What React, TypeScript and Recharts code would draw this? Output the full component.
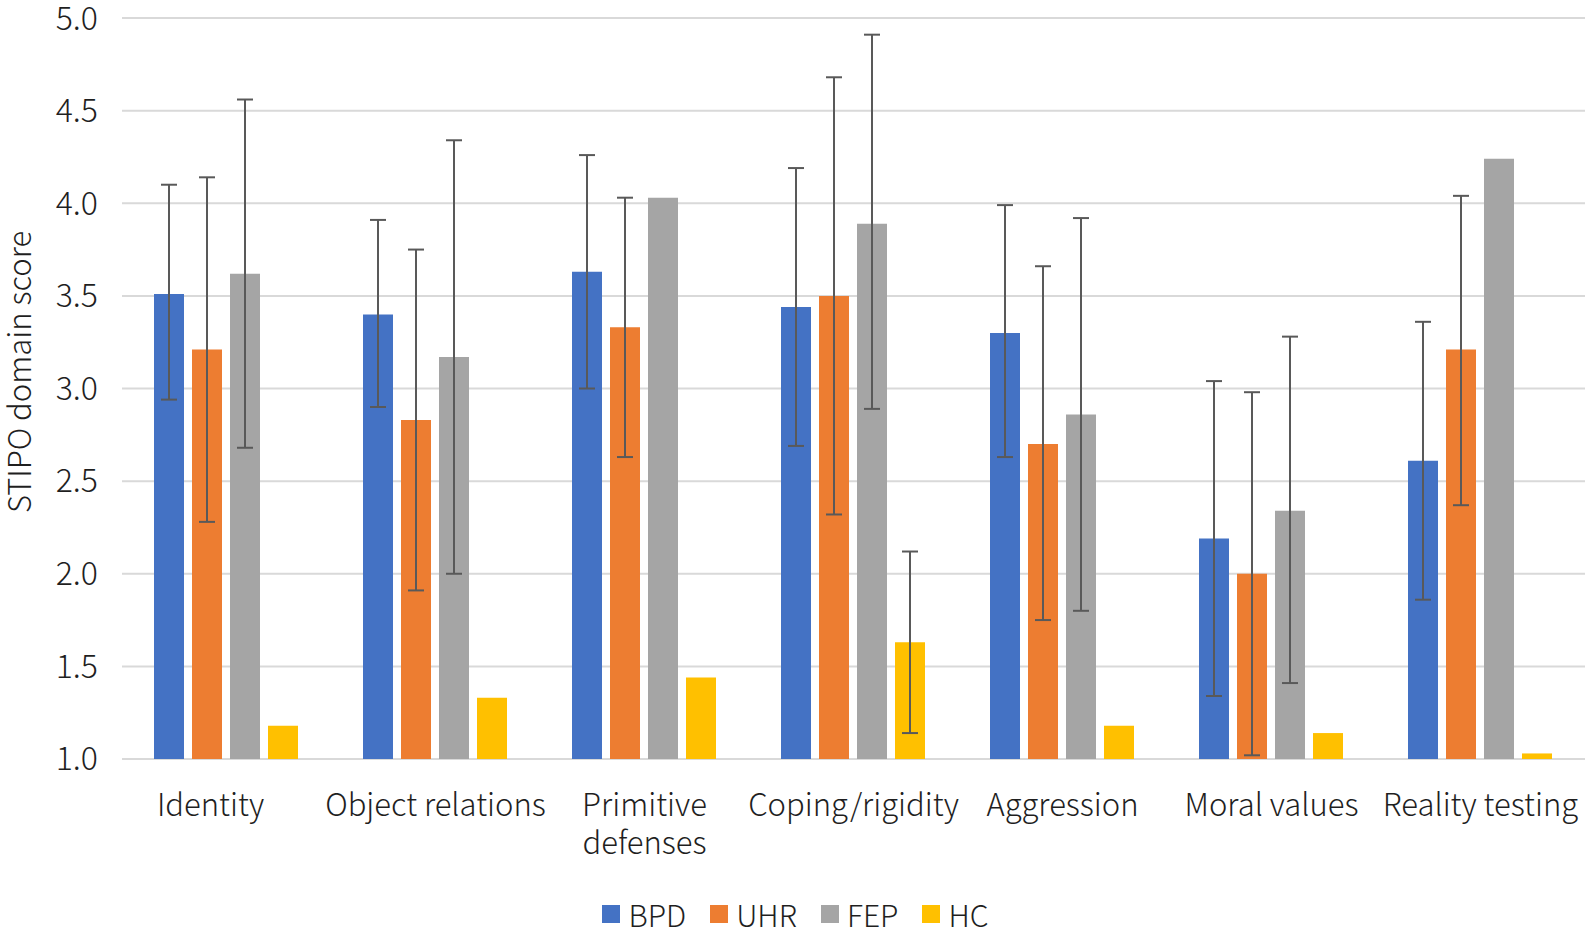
import React from 'react';
import { BarChart, Bar, XAxis, YAxis, CartesianGrid, Legend, ErrorBar } from 'recharts';

const categories = [
  'Identity',
  'Object relations',
  'Primitive defenses',
  'Coping/rigidity',
  'Aggression',
  'Moral values',
  'Reality testing',
];

// bar heights (mean STIPO domain score)
const bpd = [3.51, 3.40, 3.63, 3.44, 3.30, 2.19, 2.61];
const uhr = [3.21, 2.83, 3.33, 3.50, 2.70, 2.00, 3.21];
const fep = [3.62, 3.17, 4.03, 3.89, 2.86, 2.34, 4.24];
const hc = [1.18, 1.33, 1.44, 1.63, 1.18, 1.14, 1.03];

// whisker ends, null where no whisker is drawn
const bpdLow = [2.94, 2.90, 3.00, 2.69, 2.63, 1.34, 1.86];
const bpdHigh = [4.10, 3.91, 4.26, 4.19, 3.99, 3.04, 3.36];
const uhrLow = [2.28, 1.91, 2.63, 2.32, 1.75, 1.02, 2.37];
const uhrHigh = [4.14, 3.75, 4.03, 4.68, 3.66, 2.98, 4.04];
const fepLow = [2.68, 2.00, null, 2.89, 1.80, 1.41, null];
const fepHigh = [4.56, 4.34, null, 4.91, 3.92, 3.28, null];
const hcLow = [null, null, null, 1.14, null, null, null];
const hcHigh = [null, null, null, 2.12, null, null, null];

const yTicks = [1.0, 1.5, 2.0, 2.5, 3.0, 3.5, 4.0, 4.5, 5.0];

const series = [
  { key: 'BPD', color: '#4472C4' },
  { key: 'UHR', color: '#ED7D31' },
  { key: 'FEP', color: '#A5A5A5' },
  { key: 'HC', color: '#FFC000' },
];

const FONT = "'Noto Sans CJK JP', 'Noto Sans', sans-serif";
const TEXT = '#1f1f1f';
const WEIGHT = 300;

const err = (v: number, lo: number | null, hi: number | null) =>
  lo == null || hi == null ? null : [v - lo, hi - v];

const data = categories.map((name, i) => ({
  name,
  BPD: bpd[i],
  UHR: uhr[i],
  FEP: fep[i],
  HC: hc[i],
  BPDerr: err(bpd[i], bpdLow[i], bpdHigh[i]),
  UHRerr: err(uhr[i], uhrLow[i], uhrHigh[i]),
  FEPerr: err(fep[i], fepLow[i], fepHigh[i]),
  HCerr: err(hc[i], hcLow[i], hcHigh[i]),
}));

// the one label that wraps onto two lines in the original
const wrapLines = (text: string) => (text === 'Primitive defenses' ? text.split(' ') : [text]);

const CategoryTick = (props: any) => {
  const { x, y, payload, index } = props;
  const lines = wrapLines(payload.value);
  // first label sits a bit left of its group in the original
  const dx = index === 0 ? -16 : 0;
  return (
    <g>
      {lines.map((line, i) => (
        <text
          key={i}
          x={x + dx}
          y={y + 57 + i * 38}
          textAnchor="middle"
          fill={TEXT}
          fontSize={31}
          fontWeight={WEIGHT}
          fontFamily={FONT}
        >
          {line}
        </text>
      ))}
    </g>
  );
};

const LegendContent = () => (
  <div
    style={{
      height: 76,
      display: 'flex',
      justifyContent: 'center',
      alignItems: 'flex-start',
      paddingTop: 43,
      paddingLeft: 30,
      boxSizing: 'border-box',
      fontFamily: FONT,
      fontWeight: WEIGHT,
      fontSize: 30,
      color: TEXT,
    }}
  >
    {series.map((s) => (
      <div key={s.key} style={{ display: 'flex', alignItems: 'center', marginRight: 24, height: 24 }}>
        <span style={{ width: 18, height: 18, background: s.color, marginRight: 8, display: 'inline-block' }} />
        <span style={{ lineHeight: '24px' }}>{s.key}</span>
      </div>
    ))}
  </div>
);

export default function App() {
  return (
    <div style={{ position: 'absolute', left: 0, top: 0, width: 1585, height: 935, background: '#fff' }}>
      <BarChart
        width={1585}
        height={935}
        data={data}
        margin={{ top: 18, right: 0, bottom: 0, left: 0 }}
        barCategoryGap={32}
        barGap={8}
      >
        <CartesianGrid vertical={false} stroke="#d9d9d9" strokeWidth={2} />
        <XAxis
          dataKey="name"
          axisLine={false}
          tickLine={false}
          tickSize={0}
          tickMargin={0}
          height={100}
          interval={0}
          tick={<CategoryTick />}
        />
        <YAxis
          type="number"
          domain={[1, 5]}
          ticks={yTicks}
          width={122}
          axisLine={false}
          tickLine={false}
          tickSize={0}
          tickMargin={24}
          tickFormatter={(v: number) => v.toFixed(1)}
          tick={{ fill: TEXT, fontSize: 32, fontWeight: WEIGHT, fontFamily: FONT }}
          label={{
            content: () => (
              <text
                transform="translate(17,372) rotate(-90)"
                textAnchor="middle"
                dominantBaseline="central"
                fill={TEXT}
                fontSize={31}
                fontWeight={WEIGHT}
                fontFamily={FONT}
              >
                STIPO domain score
              </text>
            ),
          }}
        />
        <Legend verticalAlign="bottom" height={76} content={<LegendContent />} />
        {series.map((s) => (
          <Bar key={s.key} dataKey={s.key} fill={s.color} isAnimationActive={false}>
            <ErrorBar dataKey={`${s.key}err`} width={8} stroke="#595959" strokeWidth={2} direction="y" />
          </Bar>
        ))}
      </BarChart>
    </div>
  );
}
